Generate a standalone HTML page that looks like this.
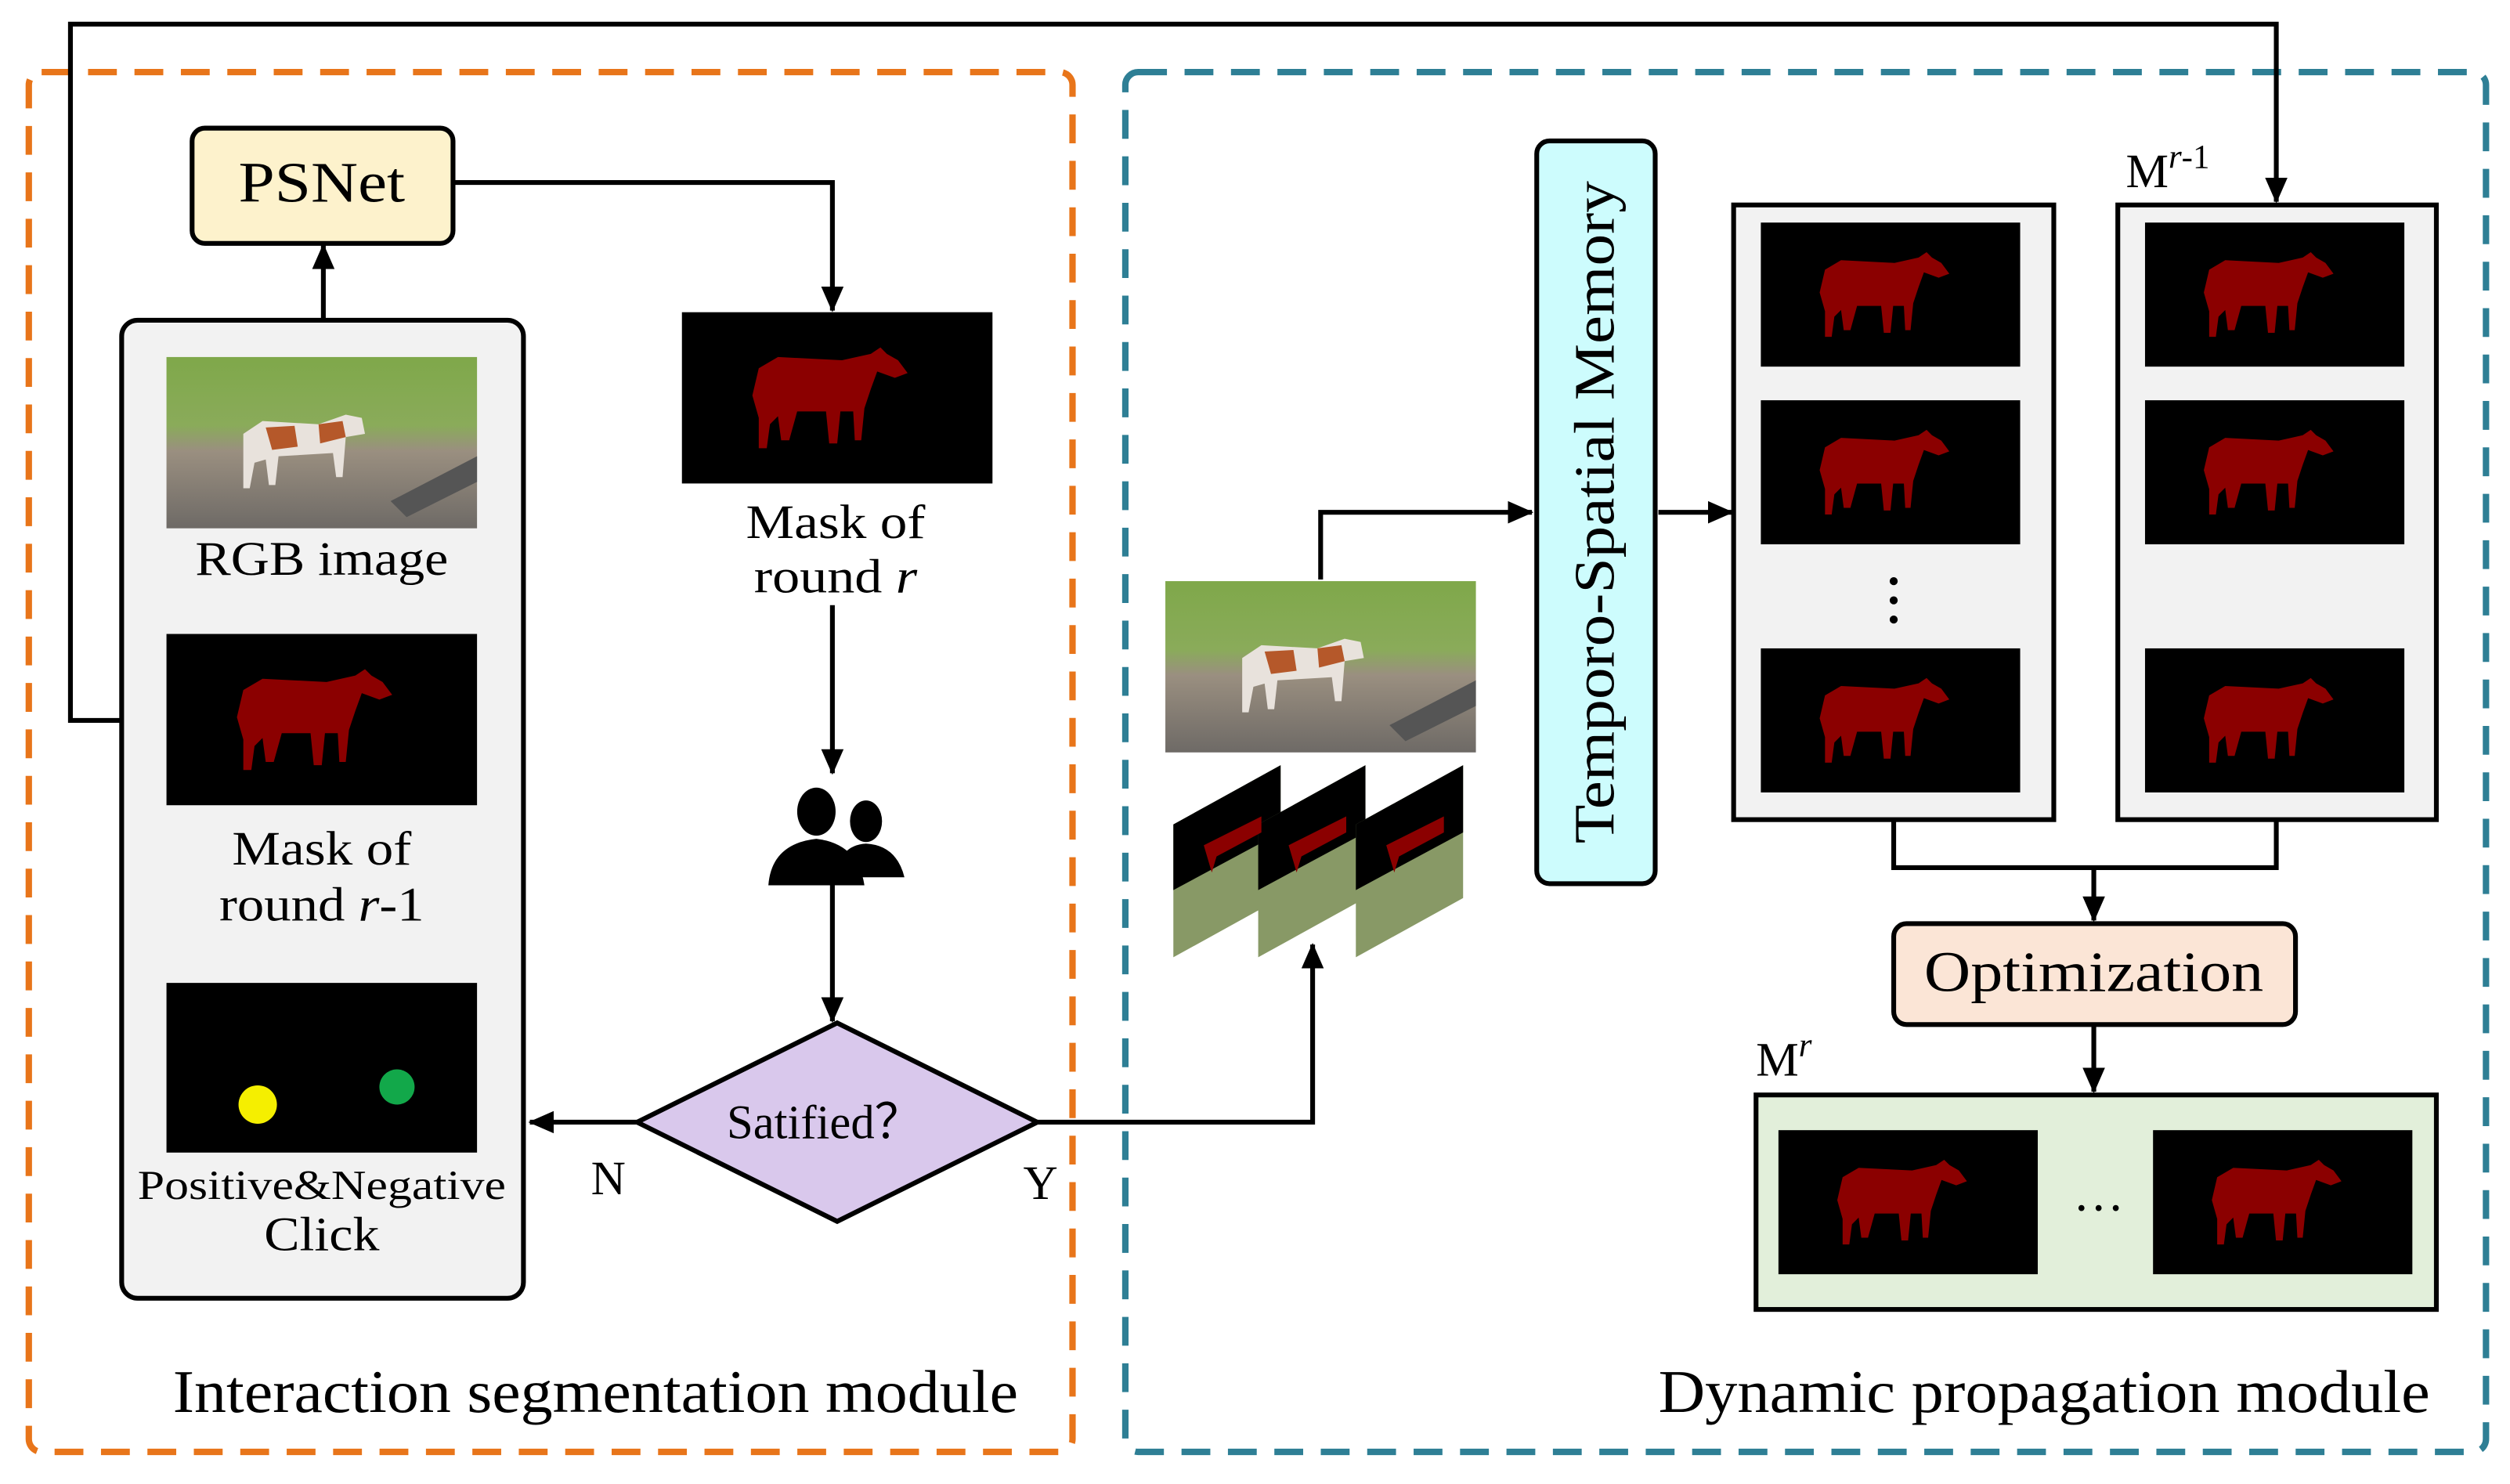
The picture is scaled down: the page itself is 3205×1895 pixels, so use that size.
<!DOCTYPE html>
<html><head><meta charset="utf-8"><style>
html,body{margin:0;padding:0;background:#fff;}
svg{display:block;}
text{font-family:"Liberation Serif","Times New Roman",serif;fill:#000;}
</style></head><body>
<svg width="3205" height="1895" viewBox="0 0 1568 927" xmlns="http://www.w3.org/2000/svg">
<defs>
<marker id="ar" markerWidth="16" markerHeight="16" refX="15" refY="8" orient="auto" markerUnits="userSpaceOnUse" viewBox="0 0 16 16">
<path d="M0,1 L16,8 L0,15 Z" fill="#000"/></marker>
<path id="cow" d="M48,35 L60,28 100,30 118,26 124,22 128,26 135,30 141,38 133,41 122,37 118,48 114,60 112,80 108,80 107,62 99,62 97,82 92,82 90,62 72,62 67,80 62,80 60,65 55,70 53,85 48,85 48,66 44,52 Z" fill="#8b0000"/>
<g id="mask"><rect width="194" height="107" fill="#000"/><use href="#cow"/></g>
<g id="smask"><rect width="162" height="90" fill="#000"/><use href="#cow" transform="scale(0.835,0.84)"/></g>
<linearGradient id="photo" x1="0" y1="0" x2="0" y2="1">
<stop offset="0" stop-color="#7fa84a"/><stop offset="0.4" stop-color="#8aab5a"/><stop offset="0.55" stop-color="#9a8f80"/><stop offset="1" stop-color="#6e6a66"/></linearGradient>
<g id="photoimg"><rect width="194" height="107" fill="url(#photo)"/>
<path d="M48,48 L60,40 95,42 112,36 122,38 124,48 112,50 110,75 106,75 104,60 70,62 68,80 64,80 62,64 55,66 52,82 48,82 48,60 Z" fill="#e8e2dc"/>
<path d="M62,44 L80,43 82,56 66,58 Z M95,42 L110,40 112,50 96,54 Z" fill="#b5582a"/>
<path d="M140,90 L194,62 194,78 150,100 Z" fill="#555"/></g>
</defs>
<rect width="1568" height="927" fill="#fff"/>
<rect x="18" y="45" width="652" height="862" rx="8" fill="none" stroke="#e8751a" stroke-width="4" stroke-dasharray="18,11"/>
<rect x="703" y="45" width="850" height="862" rx="8" fill="none" stroke="#2e7f95" stroke-width="4" stroke-dasharray="18,11"/>
<polyline points="76,450 44,450 44,15 1422,15 1422,126" fill="none" stroke="#000" stroke-width="3" marker-end="url(#ar)"/>
<rect x="120" y="80" width="163" height="72" rx="8" fill="#fdf2cc" stroke="#000" stroke-width="3"/>
<text x="201" y="126" font-size="36" text-anchor="middle" textLength="104" lengthAdjust="spacingAndGlyphs">PSNet</text>
<line x1="202" y1="200" x2="202" y2="153" stroke="#000" stroke-width="3" marker-end="url(#ar)"/>
<polyline points="283,114 520,114 520,194" fill="none" stroke="#000" stroke-width="3" marker-end="url(#ar)"/>
<rect x="76" y="200" width="251" height="611" rx="10" fill="#f2f2f2" stroke="#000" stroke-width="3"/>
<use href="#photoimg" x="104" y="223"/>
<text x="201" y="359" font-size="30" text-anchor="middle" textLength="158" lengthAdjust="spacingAndGlyphs">RGB image</text>
<use href="#mask" x="104" y="396"/>
<text x="201" y="540" font-size="30" text-anchor="middle" textLength="112" lengthAdjust="spacingAndGlyphs">Mask of</text>
<text x="201" y="575" font-size="30" text-anchor="middle" textLength="128" lengthAdjust="spacingAndGlyphs">round <tspan font-style="italic">r</tspan>-1</text>
<rect x="104" y="614" width="194" height="106" fill="#000"/>
<circle cx="161" cy="690" r="12" fill="#f5ef00"/>
<circle cx="248" cy="679" r="11" fill="#12a84a"/>
<text x="201" y="749" font-size="26" text-anchor="middle" textLength="230" lengthAdjust="spacingAndGlyphs">Positive&amp;Negative</text>
<text x="201" y="781" font-size="30" text-anchor="middle" textLength="72" lengthAdjust="spacingAndGlyphs">Click</text>
<use href="#mask" x="426" y="195"/>
<text x="522" y="336" font-size="30" text-anchor="middle" textLength="112" lengthAdjust="spacingAndGlyphs">Mask of</text>
<text x="522" y="370" font-size="30" text-anchor="middle" textLength="102" lengthAdjust="spacingAndGlyphs">round <tspan font-style="italic">r</tspan></text>
<line x1="520" y1="378" x2="520" y2="483" stroke="#000" stroke-width="3" marker-end="url(#ar)"/>
<g fill="#000">
<ellipse cx="541" cy="513" rx="10" ry="13"/><path d="M522,548 Q524,528 541,527 Q560,528 565,548 Z"/>
<ellipse cx="510" cy="507" rx="12" ry="15"/><path d="M480,553 Q482,527 510,524 Q536,527 540,553 Z"/>
</g>
<line x1="520" y1="553" x2="520" y2="638" stroke="#000" stroke-width="3" marker-end="url(#ar)"/>
<polygon points="523,639 648,701 523,763 398,701" fill="#d9c8ec" stroke="#000" stroke-width="3"/>
<text x="515" y="711" font-size="30" text-anchor="middle" textLength="122" lengthAdjust="spacingAndGlyphs">Satified？</text>
<line x1="398" y1="701" x2="331" y2="701" stroke="#000" stroke-width="3" marker-end="url(#ar)"/>
<text x="380" y="746" font-size="30" text-anchor="middle">N</text>
<text x="650" y="749" font-size="30" text-anchor="middle">Y</text>
<polyline points="648,701 820,701 820,590" fill="none" stroke="#000" stroke-width="3" marker-end="url(#ar)"/>
<use href="#photoimg" x="728" y="363"/>
<g>
<polygon points="733,515 800,478 800,561 733,598" fill="#889966"/>
<polygon points="733,515 800,478 800,520 733,556" fill="#000"/>
<polygon points="786,515 853,478 853,561 786,598" fill="#889966"/>
<polygon points="786,515 853,478 853,520 786,556" fill="#000"/>
<polygon points="847,515 914,478 914,561 847,598" fill="#889966"/>
<polygon points="847,515 914,478 914,520 847,556" fill="#000"/>
<polygon points="752,528 788,510 788,520 760,535 757,545" fill="#8b0000"/>
<polygon points="805,528 841,510 841,520 813,535 810,545" fill="#8b0000"/>
<polygon points="866,528 902,510 902,520 874,535 871,545" fill="#8b0000"/>
</g>
<polyline points="825,362 825,320 957,320" fill="none" stroke="#000" stroke-width="3" marker-end="url(#ar)"/>
<rect x="960" y="88" width="74" height="464" rx="8" fill="#cdfcfd" stroke="#000" stroke-width="3"/>
<text transform="translate(1008,320) rotate(-90)" font-size="36" text-anchor="middle" textLength="414" lengthAdjust="spacingAndGlyphs">Temporo-Spatial Memory</text>
<line x1="1036" y1="320" x2="1082" y2="320" stroke="#000" stroke-width="3" marker-end="url(#ar)"/>
<rect x="1083" y="128" width="200" height="384" fill="#f2f2f2" stroke="#000" stroke-width="3"/>
<use href="#smask" x="1100" y="139"/><use href="#smask" x="1100" y="250"/><use href="#smask" x="1100" y="405"/>
<g fill="#000"><circle cx="1183" cy="363" r="2.5"/><circle cx="1183" cy="375" r="2.5"/><circle cx="1183" cy="387" r="2.5"/>
<circle cx="1422" cy="363" r="2.5"/><circle cx="1422" cy="375" r="2.5"/><circle cx="1422" cy="387" r="2.5"/></g>
<rect x="1323" y="128" width="199" height="384" fill="#f2f2f2" stroke="#000" stroke-width="3"/>
<use href="#smask" x="1340" y="139"/><use href="#smask" x="1340" y="250"/><use href="#smask" x="1340" y="405"/>
<text x="1328" y="117" font-size="30">M<tspan font-size="21" dy="-12" font-style="italic">r</tspan><tspan font-size="21">-1</tspan></text>
<polyline points="1183,512 1183,542 1422,542 1422,512" fill="none" stroke="#000" stroke-width="3"/>
<line x1="1308" y1="542" x2="1308" y2="575" stroke="#000" stroke-width="3" marker-end="url(#ar)"/>
<rect x="1183" y="577" width="251" height="63" rx="8" fill="#fbe5d6" stroke="#000" stroke-width="3"/>
<text x="1308" y="619" font-size="36" text-anchor="middle" textLength="212" lengthAdjust="spacingAndGlyphs">Optimization</text>
<line x1="1308" y1="640" x2="1308" y2="682" stroke="#000" stroke-width="3" marker-end="url(#ar)"/>
<text x="1097" y="672" font-size="30">M<tspan font-size="21" dy="-12" font-style="italic">r</tspan></text>
<rect x="1097" y="684" width="425" height="134" fill="#e2efda" stroke="#000" stroke-width="3"/>
<use href="#smask" x="1111" y="706"/><use href="#smask" x="1345" y="706"/>
<text x="1311" y="756" font-size="32" text-anchor="middle">…</text>
<text x="108" y="882" font-size="38" textLength="528" lengthAdjust="spacingAndGlyphs">Interaction segmentation module</text>
<text x="1036" y="882" font-size="38" textLength="482" lengthAdjust="spacingAndGlyphs">Dynamic propagation module</text>
</svg>
</body></html>
